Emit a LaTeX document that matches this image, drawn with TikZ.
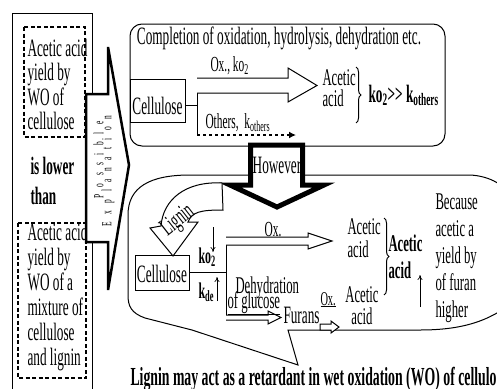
\documentclass[tikz,border=0pt]{standalone}
\usepackage{fontspec}
\setmainfont{Liberation Serif}[FakeStretch=0.53]
\usetikzlibrary{positioning,arrows.meta,decorations.pathreplacing}

\makeatletter
\newcommand{\spreadout}[1]{\@tfor\sp@c:=#1\do{\sp@c\hspace{7.5pt}}\unskip}
\makeatother

\tikzset{
  txt/.style={inner sep=0pt, font=\fontsize{25}{24.5}\selectfont},
  boxed/.style={draw, line width=1pt, inner sep=0pt},
  hollow/.style={draw, line width=1pt, fill=white},
  dashbox/.style={draw, line width=1.3pt, dash pattern=on 4pt off 2.5pt},
}

\begin{document}
\begin{tikzpicture}[x=1pt, y=-1pt, line width=1pt, >={To[length=5pt,width=5pt]}]
\useasboundingbox (0,0) rectangle (497,388);
\clip (0,0) rectangle (497,388);

% left column
\draw (12,13) rectangle (92,400);
\draw[dashbox] (24,27) rectangle (85,137);
\draw[dashbox] (18,223) rectangle (86,378);
\node[txt, align=left, anchor=north west] (yield1) at (27,38.5) {Acetic acid\\yield by\\WO of\\cellulose};
\node[txt, align=left, anchor=north west, font=\bfseries\fontsize{25}{30}\selectfont] (lower) at (30,156.5) {is lower\\than};
\node[txt, align=left, anchor=north west, font=\fontsize{25}{25}\selectfont] (yield2) at (27,222.5) {Acetic acid\\yield by\\WO of a\\mixture of\\cellulose\\and lignin};

% possible explanation
\draw[line width=2.5pt, fill=white] (86,94) -- (108,94) -- (108,47) -- (129,165) -- (108,290) -- (108,242) -- (86,242) -- cycle;
\node[inner sep=0pt, rotate=90, font=\fontsize{14}{14}\selectfont] (possible) at (98.5,160) {\spreadout{Possible}};
\node[inner sep=0pt, rotate=90, font=\fontsize{14}{14}\selectfont] (explain) at (108,171) {\spreadout{Explanation}};

% upper box
\draw[rounded corners=12pt] (130,24) rectangle (445,146);
\node[txt, anchor=base] (compl) at (279,44) {Completion of oxidation, hydrolysis, dehydration etc.};
\node[boxed, txt, minimum width=55pt, minimum height=43pt, text height=27pt, text depth=0pt] (cell1) at (157.5,100.5) {Cellulose};
\coordinate (split1) at (197,105);
\draw (cell1.east |- split1) -- (split1);
\draw (197,78) -- (197,135);
\draw[hollow] (197,78) -- (288,78) -- (288,68) -- (317,85.5) -- (288,102) -- (288,93) -- (197,93);
\draw[dashed, line width=1.5pt, -{Latex[length=7pt,width=7pt]}] (197,135) -- (296,135);
\node[txt, anchor=base west, font=\fontsize{21.5}{20}\selectfont] (oxko) at (210,71) {Ox., ko\textsubscript{2}};
\node[txt, anchor=base west, font=\fontsize{21.5}{20}\selectfont] (others) at (205,128) {Others,\ \ k\textsubscript{others}};
\node[txt, align=left, anchor=north west, font=\fontsize{24}{20.5}\selectfont] (acid1) at (322,69.5) {Acetic\\acid};
\draw[decorate, decoration={brace, amplitude=5pt}] (356,67) -- (356,123);
\node[txt, anchor=base west, font=\bfseries\fontsize{25}{24}\selectfont] (ratio) at (368,102) {ko\textsubscript{2}>\kern0pt> k\textsubscript{others}};

% speech bubble
\draw (298,365) -- (192,330) -- (145,318) .. controls (131,313) and (128,306) .. (128,295)
  -- (128,215) .. controls (128,187) and (150,175) .. (190,175) -- (470,175)
  .. controls (490,176) and (505,185) .. (515,200) -- (530,250) -- (515,300)
  .. controls (490,322) and (460,330) .. (420,330) -- (288,330) -- cycle;

% however
\draw[line width=5pt, fill=white] (250.5,145) -- (302.5,145) -- (302.5,185) -- (324,185) -- (277,207) -- (230,185) -- (250.5,185) -- cycle;
\node[txt, anchor=base] (however) at (277,173) {However};

% lignin
\draw[hollow] (222,183) .. controls (185,181) and (163,200) .. (161,226) -- (150,228) -- (173,256) -- (198,222) -- (188,222) .. controls (192,212) and (200,210) .. (223,210) -- cycle;
\node[txt, rotate=38] (lignin) at (178,221) {Lignin};

% lower scheme
\node[boxed, txt, minimum width=54pt, minimum height=35pt, text height=19pt, text depth=0pt] (cell2) at (162,272.5) {Cellulose};
\coordinate (split2) at (226,272);
\draw (cell2.east |- split2) -- (split2);
\draw (226,237) -- (226,320);
\draw[hollow] (226,237) -- (308,237) -- (308,233) -- (332,241) -- (308,249) -- (308,245) -- (226,245);
\draw[hollow] (226,315) -- (268,315) -- (268,311) -- (281,317.5) -- (268,324) -- (268,320) -- (226,320);
\draw[hollow] (320,324) -- (331,324) -- (331,321) -- (339,327) -- (331,333) -- (331,330) -- (320,330) -- cycle;
\node[txt, anchor=base, font=\fontsize{21.5}{20}\selectfont] (ox1) at (273,236) {Ox.};
\node[txt, anchor=base west, font=\bfseries\fontsize{22.5}{20}\selectfont] (ko2) at (198,263) {ko\textsubscript{2}};
\node[txt, anchor=base west, font=\bfseries\fontsize{22.5}{20}\selectfont] (kde) at (198,298) {k\textsubscript{de}};
\draw[->, line width=0.7pt] (213,227) -- (213,252);
\draw[->, line width=0.7pt] (217,301) -- (217,277);
\node[txt, anchor=base west, font=\fontsize{24}{20}\selectfont] (dehyd) at (235,293) {Dehydration};
\node[txt, anchor=base west, font=\fontsize{24}{20}\selectfont] (gluc) at (227,308) {\underline{of glucose}};
\node[txt, anchor=base west] (furans) at (283,323) {Furans};
\node[txt, anchor=base west, font=\fontsize{19.5}{20}\selectfont] (ox2) at (320,305) {\underline{Ox.}};
\node[txt, align=left, anchor=north west, font=\fontsize{24}{23}\selectfont] (acid2) at (347,218.6) {Acetic\\acid};
\node[txt, align=center, anchor=north, font=\fontsize{24}{22}\selectfont] (acid3) at (362,286.6) {Acetic\\acid};
\draw[decorate, decoration={brace, amplitude=5pt}] (384,218) -- (384,295);
\node[txt, align=left, anchor=north west, font=\bfseries\fontsize{24}{27}\selectfont] (acid4) at (388,234.6) {Acetic\\acid};
\draw[->, line width=0.7pt] (420,307) -- (420,275);
\node[txt, align=left, anchor=north west, font=\fontsize{24}{27}\selectfont] (because) at (435,193.6) {Because\\acetic a\\yield by\\of furan\\higher};

\node[txt, anchor=base west, font=\bfseries\fontsize{26}{27}\selectfont] (retard) at (130,385) {Lignin may act as a retardant in wet oxidation (WO) of cellulo};
\end{tikzpicture}
\end{document}
